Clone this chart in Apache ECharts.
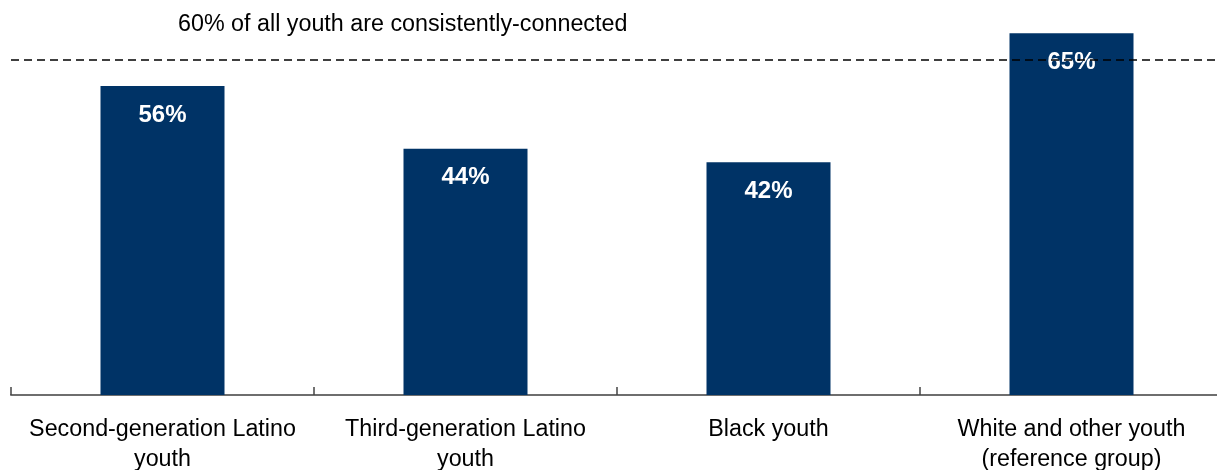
<!DOCTYPE html>
<html>
<head>
<meta charset="utf-8">
<script src="https://cdn.jsdelivr.net/npm/echarts@6/dist/echarts.min.js"></script>
<style>
html,body{margin:0;padding:0;background:#fff;}
#chart{width:1217px;height:470px;}
</style>
</head>
<body>
<div id="chart"></div>
<script>
const categories = [
  'Second-generation Latino\nyouth',
  'Third-generation Latino\nyouth',
  'Black youth',
  'White and other youth\n(reference group)'
];
const values = [55.6, 44.3, 41.9, 65.1];
const valueLabels = ['56%', '44%', '42%', '65%'];
const referenceValue = 60.3;
const referenceText = '60% of all youth are consistently-connected';

const chart = echarts.init(document.getElementById('chart'), null, {renderer: 'canvas'});
const FONT = '"Liberation Sans", Arial, sans-serif';

chart.setOption({
  animation: false,
  backgroundColor: '#ffffff',
  grid: {left: 11, width: 1212, top: 6, bottom: 75, containLabel: false, outerBoundsMode: 'none'},
  xAxis: {
    type: 'category',
    data: categories,
    axisLine: {show: true, lineStyle: {color: '#6e6e6e', width: 2}},
    axisTick: {show: true, inside: true, length: 8, alignWithLabel: false, lineStyle: {color: '#444', width: 1.5}},
    axisLabel: {
      interval: 0, color: '#000', fontFamily: FONT, fontSize: 23.3,
      lineHeight: 30, margin: 20
    }
  },
  yAxis: {
    type: 'value', min: 0, max: 70,
    show: false,
    splitLine: {show: false}
  },
  series: [{
    type: 'bar',
    data: values,
    barWidth: 124,
    itemStyle: {color: '#003366'},
    label: {
      show: true,
      position: 'insideTop',
      distance: 17,
      color: '#fff',
      fontFamily: FONT,
      fontWeight: 'bold',
      fontSize: 24,
      formatter: p => valueLabels[p.dataIndex]
    },
    markLine: {
      silent: true,
      symbol: 'none',
      label: {show: false},
      lineStyle: {color: '#000', type: [8, 5], width: 1.5},
      data: [{yAxis: referenceValue}]
    },
    z: 2
  }],
  graphic: [{
    type: 'text',
    x: 178,
    y: 25,
    z: 10,
    style: {
      text: referenceText,
      font: '23.3px "Liberation Sans", Arial, sans-serif',
      fill: '#000',
      verticalAlign: 'middle',
      align: 'left'
    }
  }]
});
</script>
</body>
</html>
